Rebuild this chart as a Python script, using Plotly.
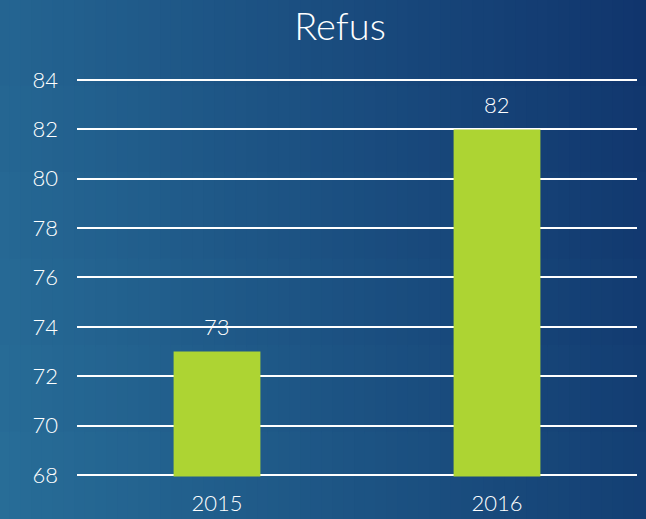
import plotly.graph_objects as go

# ---- data ----
categories = ["2015", "2016"]
values = [73, 82]
y_ticks = [68, 70, 72, 74, 76, 78, 80, 82, 84]
title_text = "Refus"

W, H = 646, 519
FONT = "Lato, 'Open Sans', sans-serif"
WEIGHT = 300

fig = go.Figure()
fig.add_trace(go.Bar(
    x=categories, y=values,
    marker=dict(color="#ADD433", line=dict(width=0)),
    hoverinfo="skip",
))

for i, (c, v) in enumerate(zip(categories, values)):
    fig.add_annotation(x=i, y=v, text=str(v), showarrow=False,
                       xref="x", yref="y",
                       yanchor="middle", yshift=25,
                       font=dict(family=FONT, size=22, color="white", weight=WEIGHT))

# background gradient (bottom-left light teal -> top-right dark navy)
TL = (36, 100, 145); TR = (16, 52, 108)
BL = (40, 110, 152); BR = (20, 64, 116)
NX, NY = 60, 6
shapes = []
for i in range(NX):
    for j in range(NY):
        u = (i + 0.5) / NX
        v = (j + 0.5) / NY  # 0 = top
        col = []
        for k in range(3):
            top = TL[k] + (TR[k] - TL[k]) * u
            bot = BL[k] + (BR[k] - BL[k]) * u
            col.append(int(round(top + (bot - top) * v)))
        shapes.append(dict(
            type="rect", xref="paper", yref="paper", layer="below",
            x0=i / NX - 0.002, x1=(i + 1) / NX + 0.002,
            y0=1 - (j + 1) / NY - 0.002, y1=1 - j / NY + 0.002,
            fillcolor="rgb(%d,%d,%d)" % tuple(col), line=dict(width=0),
        ))

# y axis: 68..84 spans pixel 475..80; pad range slightly so edge gridlines render
PX_PER_UNIT = (475 - 80) / 16.0
PAD = 0.06
y_bot_px = 475 + PAD * PX_PER_UNIT
y_top_px = 80 - PAD * PX_PER_UNIT

fig.update_layout(
    width=W, height=H,
    margin=dict(l=0, r=0, t=0, b=0, pad=0, autoexpand=False),
    paper_bgcolor="rgb(28,80,128)",
    plot_bgcolor="rgba(0,0,0,0)",
    shapes=shapes,
    showlegend=False,
    bargap=0.69,
    title=dict(text=title_text, x=340 / W, xanchor="center",
               y=1 - 27 / H, yanchor="middle",
               font=dict(family=FONT, size=38, color="white", weight=WEIGHT)),
    font=dict(family=FONT, color="white", weight=WEIGHT),
    xaxis=dict(type="category", domain=[77 / W, 637 / W], range=[-0.5, 1.5],
               showgrid=False, zeroline=False, showline=False, ticks="",
               automargin=False, ticklabelstandoff=12,
               tickfont=dict(family=FONT, size=22, color="white", weight=WEIGHT)),
    yaxis=dict(domain=[1 - y_bot_px / H, 1 - y_top_px / H],
               range=[68 - PAD, 84 + PAD],
               tickvals=y_ticks, ticktext=[str(t) for t in y_ticks],
               showgrid=True, gridcolor="white", gridwidth=2,
               zeroline=False, showline=False, ticks="", automargin=False,
               ticklabelstandoff=18,
               tickfont=dict(family=FONT, size=22, color="white", weight=WEIGHT)),
)

fig.write_html("out.html", config={"displayModeBar": False},
               post_script="document.body.style.margin='0';document.body.style.overflow='hidden';")
